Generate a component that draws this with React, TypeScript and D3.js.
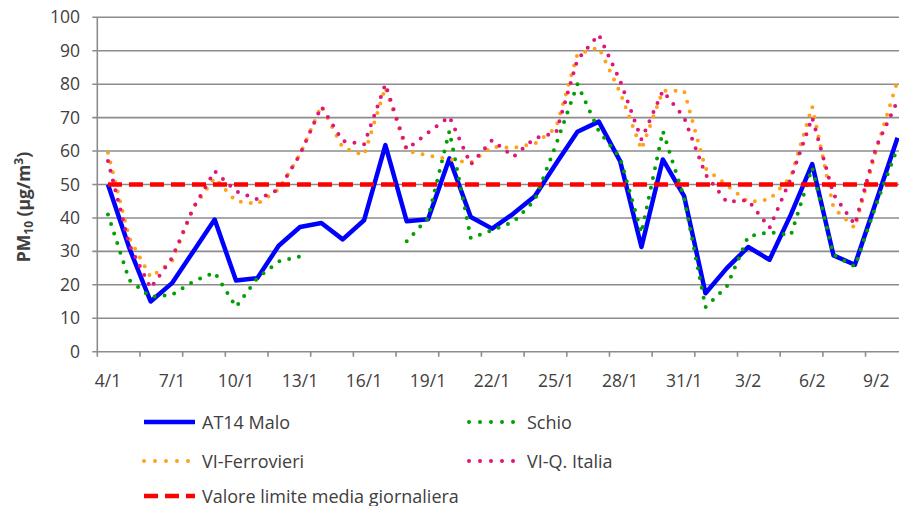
import React from 'react'
import * as d3 from 'd3'

// giorni (categorie asse x)
const days = [
  '4/1', '5/1', '6/1', '7/1', '8/1', '9/1', '10/1', '11/1', '12/1', '13/1',
  '14/1', '15/1', '16/1', '17/1', '18/1', '19/1', '20/1', '21/1', '22/1', '23/1',
  '24/1', '25/1', '26/1', '27/1', '28/1', '29/1', '30/1', '31/1', '1/2', '2/2',
  '3/2', '4/2', '5/2', '6/2', '7/2', '8/2', '9/2', '10/2',
]
// etichette mostrate sull'asse x (una ogni tre giorni)
const xLabels = ['4/1', '7/1', '10/1', '13/1', '16/1', '19/1', '22/1', '25/1', '28/1', '31/1', '3/2', '6/2', '9/2']
const yTicks = [0, 10, 20, 30, 40, 50, 60, 70, 80, 90, 100]

const malo = [
  50, 31, 15, 20.5, 30, 39.5, 21.3, 22, 31.7, 37.3,
  38.5, 33.6, 39.3, 61.8, 39, 39.6, 57.8, 40.3, 36.8, 41.3,
  46.5, 56.3, 65.8, 68.8, 57, 31.3, 57.5, 46.5, 17.5, 25,
  31.3, 27.5, 41, 56.1, 28.8, 26, 45, 64,
]
const schio: (number | null)[] = [
  41, 21.4, 16.4, 17, 21, 23.7, 13.4, 22, 27, 28.5,
  null, null, null, null, 33, 40, 66, 34, 36.3, 38.8,
  45.3, 62, 80, 66, 58, 35.5, 66, 46, 13.3, 19.5,
  34.5, 35.8, 34.8, 55, 29, 25.5, 44, 61,
]
const ferrovieri = [
  59.5, 34, 22.3, 27, 43, 52, 45, 44.2, 48.5, 59,
  73.5, 61, 58.8, 79, 60, 58.7, 57.5, 56.5, 61.3, 61,
  62.2, 67, 89, 91, 77.5, 60.5, 78, 78, 54.8, 49.8,
  44.8, 45.5, 52.3, 73.3, 43, 37, 60.3, 81,
]
const quartiereItalia = [
  57, 32, 19, 28, 43, 54, 48, 45.6, 48.5, 59,
  73.3, 63, 62, 80, 60.5, 65.5, 70.3, 56, 63.3, 58.3,
  63.8, 65.5, 87.3, 94.8, 81, 63.5, 78, 70, 53, 44.8,
  45.3, 37, 51.8, 70, 47, 38, 61.3, 75,
]
const limitValue = 50

const font = '"Open Sans", sans-serif'
const textColor = '#404040'
const gridColor = '#8c8c8c'

const series = [
  { name: 'AT14 Malo', values: malo, color: '#0000ff', width: 4.5, dash: undefined as string | undefined, cap: 'butt' },
  { name: 'Schio', values: schio, color: '#00a000', width: 4, dash: '0 10', cap: 'round' },
  { name: 'VI-Ferrovieri', values: ferrovieri, color: '#ffa21a', width: 4, dash: '0 10', cap: 'round' },
  { name: 'VI-Q. Italia', values: quartiereItalia, color: '#e0157b', width: 4, dash: '0 10', cap: 'round' },
]

const legend = [
  { name: 'AT14 Malo', color: '#0000ff', width: 4.5, dash: undefined as string | undefined, x: 142, y: 422 },
  { name: 'Schio', color: '#00a000', width: 4, dash: '0 11', x: 467, y: 422 },
  { name: 'VI-Ferrovieri', color: '#ffa21a', width: 4, dash: '0 11', x: 142, y: 461 },
  { name: 'VI-Q. Italia', color: '#e0157b', width: 4, dash: '0 11', x: 467, y: 461 },
  { name: 'Valore limite media giornaliera', color: '#ff0000', width: 4.5, dash: '14 7', x: 142, y: 496 },
]

export default function App() {
  const width = 899
  const height = 506
  const left = 97.3
  const step = 21.34

  const x = d3.scaleBand<string>().domain(days).range([left, left + days.length * step])
  const y = d3.scaleLinear().domain([0, 100]).range([351.7, 17.3])
  const cx = (d: string) => (x(d) as number) + x.bandwidth() / 2

  const line = d3
    .line<number | null>()
    .defined((v) => v != null)
    .x((_, i) => cx(days[i]))
    .y((v) => y(v as number))

  const first = cx(days[0])
  const last = cx(days[days.length - 1])

  // tacche ogni due categorie
  const tickPos = days.filter((_, i) => i % 2 === 0).map((d) => x(d) as number)

  return (
    <svg width={width} height={height} style={{ position: 'absolute', left: 0, top: 0, background: '#fff' }}>
      {/* griglia */}
      {yTicks.map((t) => (
        <g key={t}>
          <line x1={left - 5} x2={width} y1={y(t)} y2={y(t)} stroke={gridColor} strokeWidth={1.6} />
          <text x={80} y={y(t) + 6} textAnchor="end" fontFamily={font} fontSize={17.5} fill={textColor}>
            {t}
          </text>
        </g>
      ))}
      <line x1={left} x2={left} y1={y(100)} y2={y(0)} stroke={gridColor} strokeWidth={1.6} />
      {tickPos.map((p, i) => (
        <line key={i} x1={p} x2={p} y1={y(0)} y2={y(0) + 5} stroke={gridColor} strokeWidth={1.6} />
      ))}
      {xLabels.map((d) => (
        <text key={d} x={cx(d)} y={387} textAnchor="middle" fontFamily={font} fontSize={17.5} fill={textColor}>
          {d}
        </text>
      ))}

      {/* titolo asse y */}
      <text
        transform="translate(30,207) rotate(-90)"
        textAnchor="middle"
        fontFamily={font}
        fontSize={17.5}
        fontWeight="bold"
        fill={textColor}
      >
        PM<tspan fontSize={12} dy={3}>10</tspan>
        <tspan dy={-3}> (µg/m</tspan>
        <tspan fontSize={12} dy={-7}>3</tspan>
        <tspan dy={7}>)</tspan>
      </text>

      {/* serie */}
      {series.map((s) => (
        <path
          key={s.name}
          d={line(s.values) ?? ''}
          fill="none"
          stroke={s.color}
          strokeWidth={s.width}
          strokeDasharray={s.dash}
          strokeLinecap={s.cap as any}
          strokeLinejoin="round"
        />
      ))}
      <line x1={first} x2={last} y1={y(limitValue)} y2={y(limitValue)} stroke="#ff0000" strokeWidth={4.5} strokeDasharray="14 7" />

      {/* legenda */}
      {legend.map((l) => (
        <g key={l.name}>
          <line
            x1={l.x + 2}
            x2={l.x + 53}
            y1={l.y}
            y2={l.y}
            stroke={l.color}
            strokeWidth={l.width}
            strokeDasharray={l.dash}
            strokeLinecap={l.dash && l.dash.startsWith('0') ? 'round' : 'butt'}
          />
          <text x={l.x + 60} y={l.y + 6.5} fontFamily={font} fontSize={18} fill={textColor}>
            {l.name}
          </text>
        </g>
      ))}
    </svg>
  )
}
